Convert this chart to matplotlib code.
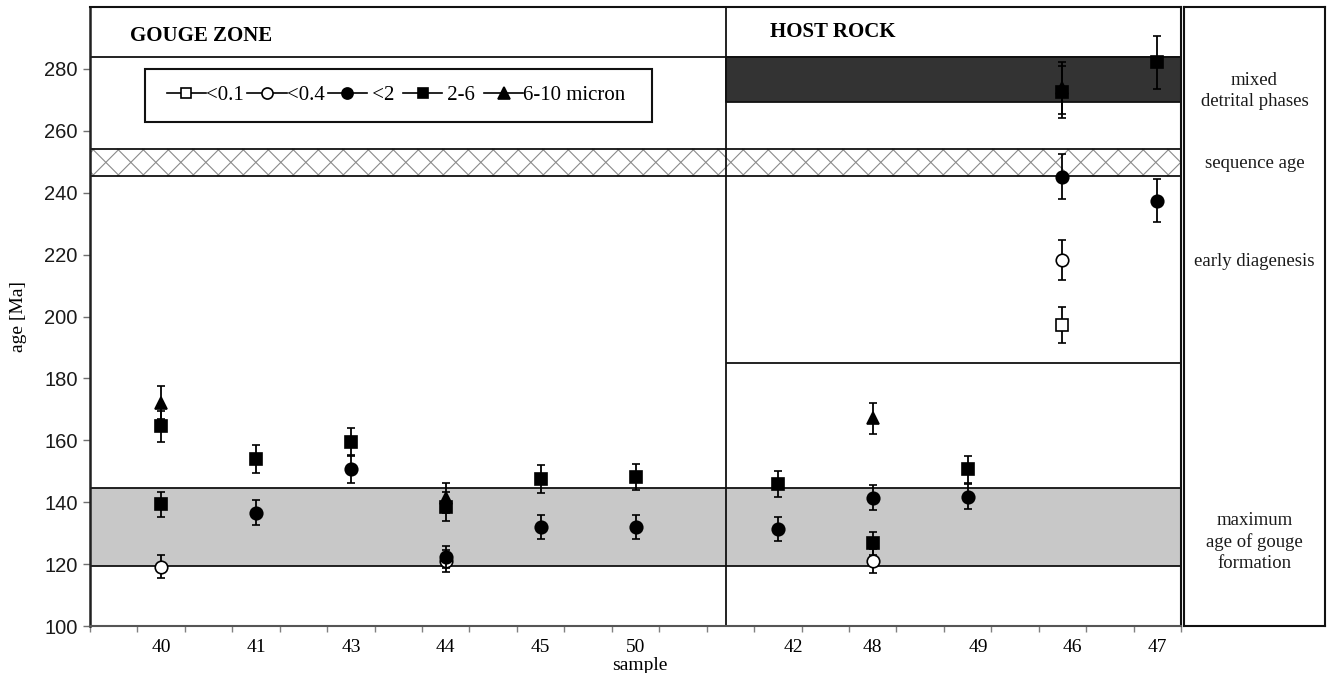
import matplotlib
matplotlib.use('Agg')
import matplotlib.pyplot as plt
import numpy as np
from matplotlib.lines import Line2D
from matplotlib.patches import Rectangle
import matplotlib.transforms as mtransforms

# ---------------- data ----------------
samples_gouge = ['40', '41', '43', '44', '45', '50']
samples_host = ['42', '48', '49', '46', '47']

series_labels = ['<0.1', '<0.4', ' <2 ', ' 2-6 ', '6-10 micron']

lt01_samples = ['46']
lt01_age = [197.3]
lt01_err = [5.9]

lt04_samples = ['40', '44', '48', '46']
lt04_age = [119.2, 121.0, 121.0, 218.3]
lt04_err = [3.6, 3.5, 3.8, 6.4]

lt2_samples = ['41', '43', '44', '45', '50', '42', '48', '49', '46', '47']
lt2_age = [136.6, 150.8, 122.4, 132.1, 132.1, 131.4, 141.5, 141.8, 245.2, 237.4]
lt2_err = [4.1, 4.5, 3.5, 3.9, 3.9, 3.8, 4.1, 4.1, 7.2, 7.0]

f26_samples = ['40', '40', '41', '43', '44', '45', '50', '42', '48', '49', '46', '47']
f26_age = [164.6, 139.3, 153.9, 159.4, 138.6, 147.5, 148.3, 145.9, 126.7, 150.6, 272.5, 282.1]
f26_err = [5.0, 4.1, 4.6, 4.5, 4.7, 4.4, 4.2, 4.3, 3.8, 4.3, 8.5, 8.6]

f610_samples = ['40', '44', '48', '46']
f610_age = [172.2, 141.4, 167.1, 273.8]
f610_err = [5.4, 4.8, 5.0, 8.3]

band_gouge_max = (119.3, 144.6)     # maximum age of gouge formation
band_sequence = (245.5, 254.1)      # sequence age
band_detrital = (269.3, 284.0)      # mixed detrital phases
header_line = 284.0
early_diag_floor = 185.0

side_labels = ['mixed\ndetrital phases', 'sequence age', 'early diagenesis',
               'maximum\nage of gouge\nformation']
side_label_age = [273.0, 249.3, 217.7, 127.2]

# ---------------- layout ----------------
W, H = 1328, 673
SERIF = ['Liberation Serif', 'DejaVu Serif']
SANS = ['Liberation Sans', 'DejaVu Sans']

xpos = {}
for i, s in enumerate(samples_gouge):
    xpos[s] = 1.5 + 2 * i
for j, s in enumerate(samples_host):
    xpos[s] = 14.5 + 2 * j
divider_x = 13.4
host_label_shift = {'42': 0.34, '48': 0.0, '49': 0.23, '46': 0.2, '47': 0.0}

fig = plt.figure(figsize=(W / 100, H / 100), dpi=100)
ax = fig.add_axes([90 / W, 1 - 626 / H, (1181 - 90) / W, (626 - 7) / H])
ax.set_xlim(0, 23)
ax.set_ylim(100, 300)

# bands
ax.axhspan(*band_gouge_max, facecolor='#c8c8c8', edgecolor='none', zorder=0)
for yv in band_gouge_max:
    ax.axhline(yv, color='#111111', lw=1.3, zorder=2)
ax.axhline(header_line, color='#111111', lw=1.3, zorder=2)
for yv in band_sequence:
    ax.axhline(yv, color='#111111', lw=1.3, zorder=2)
# cross hatch of the sequence-age band
dx = 0.56
for x0 in np.arange(-1.0, 24.0, 0.527):
    ax.plot([x0, x0 + dx], [band_sequence[0], band_sequence[1]], color='#8a8a8a', lw=0.8, zorder=1)
    ax.plot([x0, x0 + dx], [band_sequence[1], band_sequence[0]], color='#8a8a8a', lw=0.8, zorder=1)

ax.fill_between([divider_x, 23], band_detrital[0], band_detrital[1], facecolor='#333333',
                edgecolor='#111111', lw=1.3, zorder=1)
ax.hlines(early_diag_floor, divider_x, 23, color='#111111', lw=1.3, zorder=2)
ax.axvline(divider_x, color='#111111', lw=1.3, zorder=2)

# data
series = [
    (lt01_samples, lt01_age, lt01_err, 's', 'white'),
    (lt04_samples, lt04_age, lt04_err, 'o', 'white'),
    (lt2_samples, lt2_age, lt2_err, 'o', 'black'),
    (f26_samples, f26_age, f26_err, 's', 'black'),
    (f610_samples, f610_age, f610_err, '^', 'black'),
]
handles = []
for k, (smp, age, err, mk, fc) in enumerate(series):
    xs = [xpos[s] for s in smp]
    ax.errorbar(xs, age, yerr=err, fmt=mk, ms=9 if mk != 's' else 8.2, mfc=fc, mec='black',
                mew=1.2, ecolor='black', elinewidth=1.3, capsize=3, capthick=1.3,
                linestyle='none', zorder=5 + k)
    handles.append(Line2D([], [], color='black', lw=1.2, marker=mk, mfc=fc, mec='black',
                          mew=1.2, ms=8 if mk != 's' else 7.5))

# legend
ax.add_patch(Rectangle((0.0504, 0.814), 0.4647, 0.0856, transform=ax.transAxes,
                       facecolor='white', edgecolor='#111111', lw=1.5, zorder=10))
leg = ax.legend(handles, series_labels, loc='center', bbox_to_anchor=(0.2805, 0.857),
                ncol=5, frameon=False, handlelength=1.9, handletextpad=0.0,
                columnspacing=0.15, borderpad=0, prop={'family': SERIF, 'size': 15})
leg.set_zorder(11)

# headers
ax.text(0.84, 290.5, 'GOUGE ZONE', fontweight='bold', family=SERIF, fontsize=15, va='center')
ax.text(14.34, 292.0, 'HOST ROCK', fontweight='bold', family=SERIF, fontsize=15, va='center')

# ticks
ax.set_yticks(np.arange(100, 281, 20))
ax.tick_params(axis='y', direction='out', length=5, width=1, color='#707070', pad=4,
               labelsize=14.5, labelcolor='#1a1a1a')
for t in ax.get_yticklabels():
    t.set_family(SANS)
all_samples = samples_gouge + samples_host
ax.set_xticks([xpos[s] + host_label_shift.get(s, 0.0) for s in all_samples])
ax.set_xticklabels(all_samples, family=SERIF, fontsize=14)
ax.tick_params(axis='x', which='major', length=0, pad=9)
ax.set_xticks(np.arange(0, 24), minor=True)
ax.tick_params(axis='x', which='minor', direction='out', length=4, width=1, color='#808080')

for side in ['top', 'right']:
    ax.spines[side].set_linewidth(1.5)
    ax.spines[side].set_color('#111111')
ax.spines['left'].set_linewidth(1.8)
ax.spines['left'].set_color('#202020')
ax.spines['bottom'].set_linewidth(1.5)
ax.spines['bottom'].set_color('#555555')

ax.set_ylabel('age [Ma]', family=SERIF, fontsize=14)
ax.yaxis.set_label_coords(-0.0575, 0.5)
trans = mtransforms.blended_transform_factory(ax.transData, ax.transAxes)
ax.text(11.6, -0.064, 'sample', transform=trans, family=SERIF, fontsize=14,
        ha='center', va='center')

# side annotation box
ax2 = fig.add_axes([1184 / W, 1 - 626 / H, (1325 - 1184) / W, (626 - 7) / H])
ax2.set_xlim(0, 1)
ax2.set_ylim(100, 300)
ax2.set_xticks([])
ax2.set_yticks([])
for sp in ax2.spines.values():
    sp.set_linewidth(1.5)
    sp.set_color('#111111')
for txt, yv in zip(side_labels, side_label_age):
    ax2.text(0.5, yv, txt, ha='center', va='center', family=SERIF, fontsize=13.5,
             linespacing=1.3, color='#1a1a1a')

fig.savefig('out.png', dpi=100)
